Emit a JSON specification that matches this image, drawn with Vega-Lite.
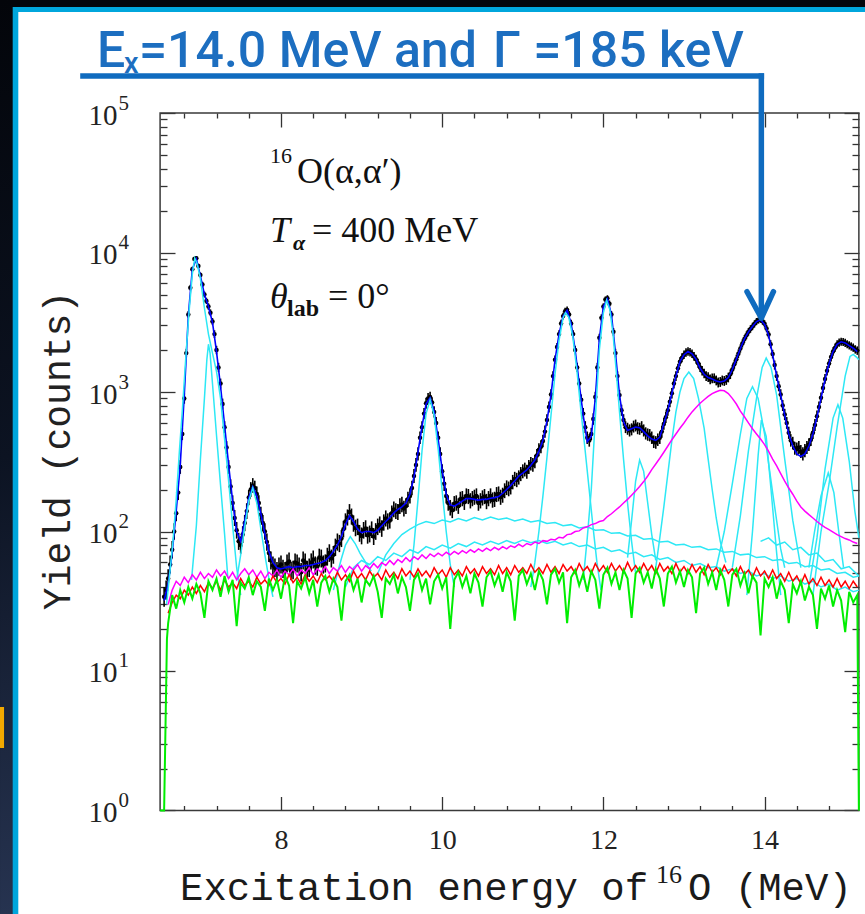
{
"$schema": "https://vega.github.io/schema/vega-lite/v6.json",
"width": 852, "height": 907,
"padding": {"left": 13, "top": 7, "right": 0, "bottom": 0},
"autosize": {"type": "none"},
"background": "#03050a",
"config": {"view": {"fill": "white", "stroke": null}, "axis": {"grid": false, "domain": false, "tickColor": "#333", "tickWidth": 1.3, "labelColor": "#222", "titleColor": "#222"}},
"resolve": {"axis": {"x": "independent", "y": "independent"}},
"datasets": {
"main": [
{"E":6.5,"g":1},
{"E":6.55,"d":34,"f":32,"g":1},
{"E":6.575,"d":38},
{"E":6.585,"g":17},
{"E":6.6,"d":46,"f":42,"g":22,"r":26,"m":30},
{"E":6.625,"d":58},
{"E":6.65,"d":74,"f":70,"g":35,"r":31,"m":38},
{"E":6.675,"d":100},
{"E":6.7,"d":135,"f":140,"g":28,"r":35,"m":44},
{"E":6.725,"d":190},
{"E":6.75,"d":290,"f":300,"g":38,"r":33,"m":41},
{"E":6.775,"d":500},
{"E":6.8,"d":900,"f":950,"g":31,"r":38,"m":47},
{"E":6.825,"d":1900},
{"E":6.85,"d":3600,"f":3500,"g":40,"r":35,"m":43},
{"E":6.875,"d":5600},
{"E":6.9,"d":7600,"f":7600,"g":33,"r":40,"m":49},
{"E":6.925,"d":9000},
{"E":6.95,"d":9100,"f":9000,"g":42,"r":36,"m":45},
{"E":6.975,"d":8000},
{"E":7.0,"d":6900,"f":6800,"g":36,"r":41,"m":51},
{"E":7.025,"d":5900},
{"E":7.05,"d":5000,"f":5000,"g":24,"r":37,"m":46},
{"E":7.075,"d":4500},
{"E":7.1,"d":4100,"f":4100,"g":44,"r":43,"m":50},
{"E":7.125,"d":3700},
{"E":7.15,"d":3200,"f":3150,"g":38,"r":39,"m":47},
{"E":7.175,"d":2600},
{"E":7.2,"d":2000,"f":1950,"g":46,"r":44,"m":53},
{"E":7.225,"d":1500},
{"E":7.25,"d":1150,"f":1100,"g":34,"r":38,"m":48},
{"E":7.275,"d":820},
{"E":7.3,"d":560,"f":580,"g":48,"r":45,"m":52},
{"E":7.325,"d":400},
{"E":7.35,"d":290,"f":300,"g":37,"r":40,"m":46},
{"E":7.375,"d":210},
{"E":7.4,"d":160,"f":165,"g":45,"r":43,"m":51},
{"E":7.425,"d":125},
{"E":7.45,"d":102,"f":100,"g":21,"r":39,"m":45},
{"E":7.475,"d":85},
{"E":7.5,"d":80,"f":85,"g":43,"r":46,"m":50},
{"E":7.525,"d":95},
{"E":7.55,"d":115,"f":120,"g":39,"r":41,"m":54},
{"E":7.575,"d":140},
{"E":7.6,"d":175,"f":175,"g":47,"r":44,"m":49},
{"E":7.625,"d":200},
{"E":7.65,"d":214,"f":210,"g":35,"r":40,"m":53},
{"E":7.675,"d":205},
{"E":7.7,"d":186,"f":180,"g":44,"r":47,"m":47},
{"E":7.725,"d":160},
{"E":7.75,"d":132,"f":135,"g":40,"r":42,"m":52},
{"E":7.775,"d":115},
{"E":7.8,"d":100,"f":96,"g":27,"r":45,"m":46},
{"E":7.825,"d":84},
{"E":7.85,"d":70,"f":72,"g":46,"r":41,"m":51},
{"E":7.875,"d":62},
{"E":7.9,"d":57,"f":60,"g":38,"r":48,"m":48},
{"E":7.925,"d":55},
{"E":7.95,"d":52,"f":55,"g":45,"r":43,"m":53},
{"E":7.975,"d":56},
{"E":8.0,"d":58,"f":54,"g":33,"r":46,"m":47},
{"E":8.025,"d":54},
{"E":8.05,"d":52,"f":55,"g":48,"r":42,"m":52},
{"E":8.075,"d":59},
{"E":8.1,"d":61,"f":56,"g":41,"r":49,"m":49},
{"E":8.125,"d":52},
{"E":8.15,"d":53,"f":55,"g":22,"r":43,"m":54},
{"E":8.175,"d":60},
{"E":8.2,"d":59,"f":56,"g":44,"r":47,"m":48},
{"E":8.225,"d":56},
{"E":8.25,"d":51,"f":56,"g":39,"r":42,"m":53},
{"E":8.275,"d":62},
{"E":8.3,"d":60,"f":57,"g":47,"r":49,"m":50},
{"E":8.325,"d":53},
{"E":8.35,"d":55,"f":57,"g":36,"r":44,"m":55},
{"E":8.375,"d":60},
{"E":8.4,"d":63,"f":58,"g":45,"r":48,"m":49},
{"E":8.425,"d":57},
{"E":8.45,"d":56,"f":59,"g":29,"r":43,"m":54},
{"E":8.475,"d":65},
{"E":8.5,"d":64,"f":60,"g":43,"r":50,"m":51},
{"E":8.525,"d":58},
{"E":8.55,"d":59,"f":62,"g":48,"r":45,"m":56},
{"E":8.575,"d":66},
{"E":8.6,"d":70,"f":66,"g":37,"r":48,"m":50},
{"E":8.625,"d":64},
{"E":8.65,"d":68,"f":72,"g":46,"r":44,"m":55},
{"E":8.675,"d":77},
{"E":8.7,"d":84,"f":80,"g":40,"r":51,"m":52},
{"E":8.725,"d":82},
{"E":8.75,"d":89,"f":92,"g":23,"r":45,"m":57},
{"E":8.775,"d":104},
{"E":8.8,"d":118,"f":112,"g":44,"r":49,"m":51},
{"E":8.825,"d":126},
{"E":8.85,"d":138,"f":130,"g":49,"r":44,"m":56},
{"E":8.875,"d":128},
{"E":8.9,"d":114,"f":118,"g":38,"r":52,"m":53},
{"E":8.925,"d":106},
{"E":8.95,"d":108,"f":104,"g":46,"r":46,"m":58},
{"E":8.975,"d":97},
{"E":9.0,"d":93,"f":98,"g":31,"r":50,"m":52},
{"E":9.025,"d":102},
{"E":9.05,"d":105,"f":100,"g":45,"r":45,"m":57},
{"E":9.075,"d":94},
{"E":9.1,"d":96,"f":100,"g":41,"r":52,"m":54},
{"E":9.125,"d":103},
{"E":9.15,"d":92,"f":98,"g":48,"r":47,"m":59},
{"E":9.175,"d":100},
{"E":9.2,"d":108,"f":102,"g":37,"r":50,"m":55},
{"E":9.225,"d":112},
{"E":9.25,"d":105,"f":110,"g":24,"r":45,"m":60},
{"E":9.275,"d":116},
{"E":9.3,"d":124,"f":118,"g":46,"r":53,"m":57},
{"E":9.325,"d":118},
{"E":9.35,"d":120,"f":126,"g":42,"r":47,"m":62},
{"E":9.375,"d":135},
{"E":9.4,"d":144,"f":136,"g":49,"r":51,"m":58},
{"E":9.425,"d":140},
{"E":9.45,"d":138,"f":144,"g":36,"r":46,"m":63},
{"E":9.475,"d":152},
{"E":9.5,"d":156,"f":150,"g":47,"r":54,"m":60},
{"E":9.525,"d":146},
{"E":9.55,"d":152,"f":160,"g":40,"r":48,"m":65},
{"E":9.575,"d":170},
{"E":9.6,"d":180,"f":185,"g":27,"r":52,"m":61},
{"E":9.625,"d":205},
{"E":9.65,"d":250,"f":245,"g":45,"r":47,"m":66},
{"E":9.675,"d":300},
{"E":9.7,"d":360,"f":370,"g":50,"r":54,"m":63},
{"E":9.725,"d":470},
{"E":9.75,"d":560,"f":570,"g":38,"r":48,"m":68},
{"E":9.775,"d":700},
{"E":9.8,"d":830,"f":820,"g":46,"r":52,"m":64},
{"E":9.825,"d":900},
{"E":9.85,"d":920,"f":910,"g":30,"r":47,"m":69},
{"E":9.875,"d":840},
{"E":9.9,"d":720,"f":730,"g":44,"r":55,"m":66},
{"E":9.925,"d":600},
{"E":9.95,"d":470,"f":460,"g":49,"r":49,"m":70},
{"E":9.975,"d":360},
{"E":10.0,"d":270,"f":275,"g":39,"r":53,"m":67},
{"E":10.025,"d":220},
{"E":10.05,"d":180,"f":185,"g":47,"r":47,"m":71},
{"E":10.075,"d":160},
{"E":10.1,"d":148,"f":155,"g":20,"r":55,"m":68},
{"E":10.125,"d":142},
{"E":10.15,"d":158,"f":152,"g":45,"r":49,"m":72},
{"E":10.175,"d":160},
{"E":10.2,"d":152,"f":158,"g":51,"r":53,"m":69},
{"E":10.225,"d":170},
{"E":10.25,"d":172,"f":165,"g":40,"r":48,"m":73},
{"E":10.275,"d":162},
{"E":10.3,"d":180,"f":172,"g":48,"r":56,"m":70},
{"E":10.325,"d":178},
{"E":10.35,"d":166,"f":172,"g":36,"r":50,"m":74},
{"E":10.375,"d":172},
{"E":10.4,"d":176,"f":170,"g":50,"r":54,"m":71},
{"E":10.425,"d":180},
{"E":10.45,"d":160,"f":168,"g":43,"r":48,"m":75},
{"E":10.475,"d":166},
{"E":10.5,"d":174,"f":170,"g":29,"r":56,"m":72},
{"E":10.525,"d":178},
{"E":10.55,"d":164,"f":170,"g":47,"r":50,"m":76},
{"E":10.575,"d":172},
{"E":10.6,"d":180,"f":173,"g":52,"r":54,"m":73},
{"E":10.625,"d":168},
{"E":10.65,"d":170,"f":175,"g":41,"r":49,"m":77},
{"E":10.675,"d":184},
{"E":10.7,"d":186,"f":178,"g":49,"r":57,"m":74},
{"E":10.725,"d":176},
{"E":10.75,"d":182,"f":188,"g":37,"r":50,"m":78},
{"E":10.775,"d":196},
{"E":10.8,"d":206,"f":200,"g":51,"r":55,"m":75},
{"E":10.825,"d":202},
{"E":10.85,"d":208,"f":214,"g":44,"r":49,"m":79},
{"E":10.875,"d":226},
{"E":10.9,"d":238,"f":230,"g":23,"r":57,"m":77},
{"E":10.925,"d":234},
{"E":10.95,"d":244,"f":250,"g":48,"r":51,"m":81},
{"E":10.975,"d":258},
{"E":11.0,"d":270,"f":262,"g":53,"r":55,"m":78},
{"E":11.025,"d":278},
{"E":11.05,"d":268,"f":276,"g":42,"r":50,"m":82},
{"E":11.075,"d":290},
{"E":11.1,"d":306,"f":298,"g":50,"r":58,"m":80},
{"E":11.125,"d":300},
{"E":11.15,"d":318,"f":325,"g":38,"r":51,"m":84},
{"E":11.175,"d":350},
{"E":11.2,"d":385,"f":375,"g":52,"r":55,"m":82},
{"E":11.225,"d":405},
{"E":11.25,"d":445,"f":450,"g":45,"r":50,"m":86},
{"E":11.275,"d":520},
{"E":11.3,"d":630,"f":620,"g":30,"r":58,"m":85},
{"E":11.325,"d":780},
{"E":11.35,"d":960,"f":950,"g":49,"r":51,"m":88},
{"E":11.375,"d":1300},
{"E":11.4,"d":1700,"f":1700,"g":54,"r":56,"m":87},
{"E":11.425,"d":2100},
{"E":11.45,"d":2600,"f":2600,"g":43,"r":50,"m":91},
{"E":11.475,"d":3100},
{"E":11.5,"d":3500,"f":3500,"g":51,"r":58,"m":90},
{"E":11.525,"d":3800},
{"E":11.55,"d":3880,"f":3850,"g":22,"r":52,"m":95},
{"E":11.575,"d":3600},
{"E":11.6,"d":3100,"f":3100,"g":47,"r":56,"m":96},
{"E":11.625,"d":2600},
{"E":11.65,"d":2000,"f":2000,"g":53,"r":50,"m":100},
{"E":11.675,"d":1500},
{"E":11.7,"d":1150,"f":1150,"g":41,"r":59,"m":101},
{"E":11.725,"d":880},
{"E":11.75,"d":700,"f":680,"g":50,"r":52,"m":106},
{"E":11.775,"d":560},
{"E":11.8,"d":470,"f":440,"g":37,"r":56,"m":108},
{"E":11.825,"d":450},
{"E":11.85,"d":500,"f":480,"g":52,"r":50,"m":112},
{"E":11.875,"d":640},
{"E":11.9,"d":920,"f":900,"g":45,"r":59,"m":114},
{"E":11.925,"d":1500},
{"E":11.95,"d":2450,"f":2400,"g":28,"r":52,"m":118},
{"E":11.975,"d":3400},
{"E":12.0,"d":4100,"f":4100,"g":49,"r":57,"m":120},
{"E":12.025,"d":4600},
{"E":12.05,"d":4700,"f":4650,"g":55,"r":51,"m":128},
{"E":12.075,"d":4300},
{"E":12.1,"d":3600,"f":3600,"g":42,"r":59,"m":134},
{"E":12.125,"d":2700},
{"E":12.15,"d":1900,"f":1900,"g":51,"r":52,"m":142},
{"E":12.175,"d":1300},
{"E":12.2,"d":950,"f":950,"g":38,"r":57,"m":150},
{"E":12.225,"d":740},
{"E":12.25,"d":630,"f":610,"g":53,"r":51,"m":160},
{"E":12.275,"d":560},
{"E":12.3,"d":545,"f":530,"g":46,"r":60,"m":170},
{"E":12.325,"d":530},
{"E":12.35,"d":540,"f":545,"g":24,"r":52,"m":182},
{"E":12.375,"d":565},
{"E":12.4,"d":575,"f":560,"g":50,"r":57,"m":195},
{"E":12.425,"d":550},
{"E":12.45,"d":545,"f":555,"g":55,"r":51,"m":210},
{"E":12.475,"d":560},
{"E":12.5,"d":530,"f":520,"g":43,"r":59,"m":228},
{"E":12.525,"d":505},
{"E":12.55,"d":495,"f":485,"g":51,"r":52,"m":250},
{"E":12.575,"d":490},
{"E":12.6,"d":470,"f":460,"g":39,"r":57,"m":278},
{"E":12.625,"d":440},
{"E":12.65,"d":435,"f":450,"g":54,"r":50,"m":305},
{"E":12.675,"d":455},
{"E":12.7,"d":470,"f":475,"g":46,"r":59,"m":335},
{"E":12.725,"d":520},
{"E":12.75,"d":590,"f":590,"g":29,"r":52,"m":370},
{"E":12.775,"d":660},
{"E":12.8,"d":740,"f":740,"g":50,"r":56,"m":410},
{"E":12.825,"d":850},
{"E":12.85,"d":980,"f":980,"g":56,"r":50,"m":455},
{"E":12.875,"d":1150},
{"E":12.9,"d":1300,"f":1300,"g":43,"r":59,"m":500},
{"E":12.925,"d":1480},
{"E":12.95,"d":1650,"f":1650,"g":52,"r":51,"m":550},
{"E":12.975,"d":1760},
{"E":13.0,"d":1850,"f":1850,"g":40,"r":56,"m":600},
{"E":13.025,"d":1920},
{"E":13.05,"d":1950,"f":1950,"g":53,"r":50,"m":660},
{"E":13.075,"d":1930},
{"E":13.1,"d":1880,"f":1880,"g":47,"r":58,"m":720},
{"E":13.125,"d":1800},
{"E":13.15,"d":1720,"f":1720,"g":26,"r":51,"m":775},
{"E":13.175,"d":1610},
{"E":13.2,"d":1500,"f":1480,"g":50,"r":56,"m":830},
{"E":13.225,"d":1420},
{"E":13.25,"d":1360,"f":1340,"g":55,"r":49,"m":880},
{"E":13.275,"d":1300},
{"E":13.3,"d":1280,"f":1270,"g":42,"r":58,"m":930},
{"E":13.325,"d":1230},
{"E":13.35,"d":1250,"f":1240,"g":51,"r":51,"m":975},
{"E":13.375,"d":1255},
{"E":13.4,"d":1210,"f":1200,"g":38,"r":55,"m":1005},
{"E":13.425,"d":1170},
{"E":13.45,"d":1180,"f":1180,"g":53,"r":49,"m":1030},
{"E":13.475,"d":1210},
{"E":13.5,"d":1200,"f":1200,"g":45,"r":57,"m":1020},
{"E":13.525,"d":1220},
{"E":13.55,"d":1270,"f":1270,"g":29,"r":50,"m":975},
{"E":13.575,"d":1340},
{"E":13.6,"d":1450,"f":1450,"g":49,"r":54,"m":900},
{"E":13.625,"d":1580},
{"E":13.65,"d":1720,"f":1720,"g":54,"r":48,"m":820},
{"E":13.675,"d":1880},
{"E":13.7,"d":2050,"f":2050,"g":41,"r":56,"m":730},
{"E":13.725,"d":2230},
{"E":13.75,"d":2400,"f":2400,"g":50,"r":49,"m":665},
{"E":13.775,"d":2550},
{"E":13.8,"d":2700,"f":2700,"g":36,"r":53,"m":600},
{"E":13.825,"d":2830},
{"E":13.85,"d":2950,"f":2950,"g":48,"r":47,"m":545},
{"E":13.875,"d":3080},
{"E":13.9,"d":3200,"f":3200,"g":43,"r":55,"m":500},
{"E":13.925,"d":3280},
{"E":13.95,"d":3320,"f":3300,"g":18,"r":48,"m":460},
{"E":13.975,"d":3220},
{"E":14.0,"d":3080,"f":3050,"g":46,"r":52,"m":420},
{"E":14.025,"d":2850},
{"E":14.05,"d":2580,"f":2550,"g":40,"r":46,"m":375},
{"E":14.075,"d":2200},
{"E":14.1,"d":1870,"f":1850,"g":47,"r":53,"m":330},
{"E":14.125,"d":1560},
{"E":14.15,"d":1300,"f":1300,"g":33,"r":46,"m":295},
{"E":14.175,"d":1100},
{"E":14.2,"d":960,"f":950,"g":44,"r":50,"m":260},
{"E":14.225,"d":800},
{"E":14.25,"d":690,"f":680,"g":38,"r":44,"m":230},
{"E":14.275,"d":600},
{"E":14.3,"d":510,"f":500,"g":22,"r":51,"m":205},
{"E":14.325,"d":450},
{"E":14.35,"d":430,"f":410,"g":42,"r":44,"m":185},
{"E":14.375,"d":395},
{"E":14.4,"d":390,"f":360,"g":36,"r":48,"m":165},
{"E":14.425,"d":400},
{"E":14.45,"d":375,"f":345,"g":44,"r":42,"m":150},
{"E":14.475,"d":360},
{"E":14.5,"d":380,"f":360,"g":32,"r":49,"m":140},
{"E":14.525,"d":400},
{"E":14.55,"d":420,"f":410,"g":40,"r":42,"m":132},
{"E":14.575,"d":455},
{"E":14.6,"d":510,"f":500,"g":35,"r":46,"m":125},
{"E":14.625,"d":580},
{"E":14.65,"d":670,"f":660,"g":20,"r":41,"m":118},
{"E":14.675,"d":780},
{"E":14.7,"d":910,"f":900,"g":39,"r":47,"m":112},
{"E":14.725,"d":1070},
{"E":14.75,"d":1240,"f":1230,"g":33,"r":41,"m":107},
{"E":14.775,"d":1420},
{"E":14.8,"d":1600,"f":1600,"g":41,"r":45,"m":103},
{"E":14.825,"d":1780},
{"E":14.85,"d":1950,"f":1950,"g":29,"r":40,"m":99},
{"E":14.875,"d":2080},
{"E":14.9,"d":2200,"f":2200,"g":38,"r":46,"m":95},
{"E":14.925,"d":2260},
{"E":14.95,"d":2290,"f":2290,"g":32,"r":40,"m":92},
{"E":14.975,"d":2280},
{"E":15.0,"d":2250,"f":2250,"g":19,"r":44,"m":89},
{"E":15.025,"d":2200},
{"E":15.05,"d":2160,"f":2150,"g":37,"r":39,"m":87},
{"E":15.075,"d":2120},
{"E":15.1,"d":2080,"f":2060,"g":31,"r":44,"m":84},
{"E":15.125,"d":2020},
{"E":15.15,"d":1980,"f":1950,"g":35,"r":40,"m":82},
{"E":15.17,"g":1}
],
"cyan": [
{"c":"C1","E":6.58,"y":30},{"c":"C1","E":6.62,"y":50},{"c":"C1","E":6.66,"y":85},{"c":"C1","E":6.7,"y":170},{"c":"C1","E":6.74,"y":380},{"c":"C1","E":6.78,"y":800},{"c":"C1","E":6.82,"y":1800},{"c":"C1","E":6.86,"y":3800},{"c":"C1","E":6.9,"y":7000},{"c":"C1","E":6.93,"y":9100},{"c":"C1","E":6.96,"y":8300},{"c":"C1","E":7.0,"y":6500},{"c":"C1","E":7.05,"y":4000},{"c":"C1","E":7.1,"y":2600},{"c":"C1","E":7.15,"y":1900},{"c":"C1","E":7.2,"y":1400},{"c":"C1","E":7.25,"y":900},{"c":"C1","E":7.3,"y":460},{"c":"C1","E":7.35,"y":230},{"c":"C1","E":7.4,"y":110},{"c":"C1","E":7.45,"y":55},{"c":"C1","E":7.5,"y":35},
{"c":"C2","E":6.89,"y":45},{"c":"C2","E":6.95,"y":110},{"c":"C2","E":7.0,"y":330},{"c":"C2","E":7.05,"y":900},{"c":"C2","E":7.08,"y":1700},{"c":"C2","E":7.1,"y":2200},{"c":"C2","E":7.12,"y":1900},{"c":"C2","E":7.15,"y":1150},{"c":"C2","E":7.2,"y":490},{"c":"C2","E":7.25,"y":215},{"c":"C2","E":7.3,"y":96},{"c":"C2","E":7.34,"y":47},
{"c":"C3","E":7.45,"y":45},{"c":"C3","E":7.5,"y":68},{"c":"C3","E":7.55,"y":108},{"c":"C3","E":7.6,"y":165},{"c":"C3","E":7.65,"y":205},{"c":"C3","E":7.7,"y":160},{"c":"C3","E":7.75,"y":105},{"c":"C3","E":7.8,"y":68},{"c":"C3","E":7.85,"y":46},{"c":"C3","E":7.9,"y":34},
{"c":"C4","E":8.65,"y":38},{"c":"C4","E":8.7,"y":50},{"c":"C4","E":8.75,"y":64},{"c":"C4","E":8.8,"y":80},{"c":"C4","E":8.86,"y":92},{"c":"C4","E":8.92,"y":82},{"c":"C4","E":8.98,"y":70},{"c":"C4","E":9.05,"y":60},{"c":"C4","E":9.12,"y":52},
{"c":"C5","E":9.6,"y":45},{"c":"C5","E":9.65,"y":80},{"c":"C5","E":9.7,"y":170},{"c":"C5","E":9.75,"y":380},{"c":"C5","E":9.8,"y":700},{"c":"C5","E":9.85,"y":880},{"c":"C5","E":9.9,"y":680},{"c":"C5","E":9.95,"y":390},{"c":"C5","E":10.0,"y":195},{"c":"C5","E":10.05,"y":100},{"c":"C5","E":10.1,"y":58},{"c":"C5","E":10.15,"y":40},
{"c":"C6","E":11.1,"y":40},{"c":"C6","E":11.15,"y":60},{"c":"C6","E":11.2,"y":100},{"c":"C6","E":11.25,"y":180},{"c":"C6","E":11.3,"y":340},{"c":"C6","E":11.35,"y":680},{"c":"C6","E":11.4,"y":1350},{"c":"C6","E":11.45,"y":2350},{"c":"C6","E":11.5,"y":3400},{"c":"C6","E":11.53,"y":3700},{"c":"C6","E":11.57,"y":3450},{"c":"C6","E":11.62,"y":2500},{"c":"C6","E":11.67,"y":1450},{"c":"C6","E":11.72,"y":750},{"c":"C6","E":11.77,"y":400},{"c":"C6","E":11.82,"y":210},{"c":"C6","E":11.87,"y":110},{"c":"C6","E":11.92,"y":60},{"c":"C6","E":11.97,"y":38},
{"c":"C7","E":11.75,"y":45},{"c":"C7","E":11.8,"y":90},{"c":"C7","E":11.85,"y":200},{"c":"C7","E":11.9,"y":650},{"c":"C7","E":11.95,"y":2000},{"c":"C7","E":12.0,"y":3700},{"c":"C7","E":12.04,"y":4550},{"c":"C7","E":12.08,"y":3900},{"c":"C7","E":12.12,"y":2600},{"c":"C7","E":12.16,"y":1400},{"c":"C7","E":12.2,"y":720},{"c":"C7","E":12.25,"y":330},{"c":"C7","E":12.3,"y":160},{"c":"C7","E":12.35,"y":85},{"c":"C7","E":12.4,"y":50},
{"c":"C8","E":12.3,"y":65},{"c":"C8","E":12.35,"y":120},{"c":"C8","E":12.4,"y":230},{"c":"C8","E":12.45,"y":325},{"c":"C8","E":12.5,"y":270},{"c":"C8","E":12.55,"y":160},{"c":"C8","E":12.6,"y":95},{"c":"C8","E":12.65,"y":62},
{"c":"C9","E":12.65,"y":55},{"c":"C9","E":12.7,"y":90},{"c":"C9","E":12.75,"y":150},{"c":"C9","E":12.8,"y":260},{"c":"C9","E":12.85,"y":450},{"c":"C9","E":12.9,"y":720},{"c":"C9","E":12.95,"y":1000},{"c":"C9","E":13.0,"y":1250},{"c":"C9","E":13.06,"y":1390},{"c":"C9","E":13.12,"y":1250},{"c":"C9","E":13.18,"y":900},{"c":"C9","E":13.25,"y":550},{"c":"C9","E":13.3,"y":330},{"c":"C9","E":13.35,"y":200},{"c":"C9","E":13.4,"y":125},{"c":"C9","E":13.45,"y":85},{"c":"C9","E":13.52,"y":60},
{"c":"C10","E":13.4,"y":55},{"c":"C10","E":13.5,"y":100},{"c":"C10","E":13.6,"y":220},{"c":"C10","E":13.7,"y":500},{"c":"C10","E":13.78,"y":900},{"c":"C10","E":13.85,"y":1090},{"c":"C10","E":13.92,"y":900},{"c":"C10","E":14.0,"y":500},{"c":"C10","E":14.1,"y":190},{"c":"C10","E":14.2,"y":75},{"c":"C10","E":14.25,"y":55},
{"c":"C11","E":13.6,"y":55},{"c":"C11","E":13.7,"y":130},{"c":"C11","E":13.8,"y":380},{"c":"C11","E":13.9,"y":900},{"c":"C11","E":13.97,"y":1500},{"c":"C11","E":14.02,"y":1750},{"c":"C11","E":14.08,"y":1500},{"c":"C11","E":14.15,"y":950},{"c":"C11","E":14.25,"y":330},{"c":"C11","E":14.35,"y":120},{"c":"C11","E":14.45,"y":55},
{"c":"C12","E":13.78,"y":35},{"c":"C12","E":13.85,"y":100},{"c":"C12","E":13.92,"y":350},{"c":"C12","E":13.96,"y":630},{"c":"C12","E":14.02,"y":480},{"c":"C12","E":14.08,"y":200},{"c":"C12","E":14.15,"y":70},{"c":"C12","E":14.2,"y":35},
{"c":"C13","E":14.55,"y":55},{"c":"C13","E":14.62,"y":100},{"c":"C13","E":14.7,"y":180},{"c":"C13","E":14.79,"y":263},{"c":"C13","E":14.86,"y":190},{"c":"C13","E":14.92,"y":100},{"c":"C13","E":14.98,"y":55},
{"c":"C14","E":14.55,"y":40},{"c":"C14","E":14.65,"y":90},{"c":"C14","E":14.75,"y":280},{"c":"C14","E":14.85,"y":650},{"c":"C14","E":14.91,"y":810},{"c":"C14","E":14.97,"y":650},{"c":"C14","E":15.05,"y":320},{"c":"C14","E":15.12,"y":140},{"c":"C14","E":15.17,"y":90},
{"c":"C15","E":14.6,"y":35},{"c":"C15","E":14.7,"y":100},{"c":"C15","E":14.8,"y":220},{"c":"C15","E":14.9,"y":560},{"c":"C15","E":15.0,"y":1300},{"c":"C15","E":15.06,"y":1800},{"c":"C15","E":15.1,"y":1860},{"c":"C15","E":15.14,"y":1780},{"c":"C15","E":15.17,"y":1700},
{"c":"Q1","E":9.2,"y":50},{"c":"Q1","E":9.3,"y":68},{"c":"Q1","E":9.4,"y":82},{"c":"Q1","E":9.5,"y":95},{"c":"Q1","E":9.6,"y":104},{"c":"Q1","E":9.7,"y":112},{"c":"Q1","E":9.8,"y":118},{"c":"Q1","E":9.9,"y":114},{"c":"Q1","E":10.0,"y":121},{"c":"Q1","E":10.1,"y":117},{"c":"Q1","E":10.2,"y":124},{"c":"Q1","E":10.3,"y":119},{"c":"Q1","E":10.4,"y":126},{"c":"Q1","E":10.5,"y":121},{"c":"Q1","E":10.6,"y":127},{"c":"Q1","E":10.7,"y":122},{"c":"Q1","E":10.8,"y":125},{"c":"Q1","E":10.9,"y":119},{"c":"Q1","E":11.0,"y":123},{"c":"Q1","E":11.1,"y":117},{"c":"Q1","E":11.2,"y":120},{"c":"Q1","E":11.3,"y":114},{"c":"Q1","E":11.4,"y":116},{"c":"Q1","E":11.5,"y":110},{"c":"Q1","E":11.6,"y":112},{"c":"Q1","E":11.7,"y":106},{"c":"Q1","E":11.8,"y":108},{"c":"Q1","E":11.9,"y":102},{"c":"Q1","E":12.0,"y":103},{"c":"Q1","E":12.1,"y":97},{"c":"Q1","E":12.2,"y":98},{"c":"Q1","E":12.3,"y":93},{"c":"Q1","E":12.4,"y":94},{"c":"Q1","E":12.5,"y":88},{"c":"Q1","E":12.6,"y":89},{"c":"Q1","E":12.7,"y":84},{"c":"Q1","E":12.8,"y":85},{"c":"Q1","E":12.9,"y":80},{"c":"Q1","E":13.0,"y":81},{"c":"Q1","E":13.1,"y":77},{"c":"Q1","E":13.2,"y":78},{"c":"Q1","E":13.3,"y":74},{"c":"Q1","E":13.4,"y":75},{"c":"Q1","E":13.5,"y":71},{"c":"Q1","E":13.6,"y":72},{"c":"Q1","E":13.7,"y":68},{"c":"Q1","E":13.8,"y":69},{"c":"Q1","E":13.9,"y":65},{"c":"Q1","E":14.0,"y":66},{"c":"Q1","E":14.1,"y":62},{"c":"Q1","E":14.2,"y":63},{"c":"Q1","E":14.3,"y":59},{"c":"Q1","E":14.4,"y":60},{"c":"Q1","E":14.5,"y":56},{"c":"Q1","E":14.6,"y":57},{"c":"Q1","E":14.7,"y":53},{"c":"Q1","E":14.8,"y":54},{"c":"Q1","E":14.9,"y":50},{"c":"Q1","E":15.0,"y":51},{"c":"Q1","E":15.1,"y":47},{"c":"Q1","E":15.17,"y":48},
{"c":"Q2","E":8.8,"y":40},{"c":"Q2","E":8.9,"y":55},{"c":"Q2","E":9.0,"y":62},{"c":"Q2","E":9.1,"y":58},{"c":"Q2","E":9.2,"y":66},{"c":"Q2","E":9.3,"y":62},{"c":"Q2","E":9.4,"y":70},{"c":"Q2","E":9.5,"y":66},{"c":"Q2","E":9.6,"y":74},{"c":"Q2","E":9.7,"y":70},{"c":"Q2","E":9.8,"y":78},{"c":"Q2","E":9.9,"y":74},{"c":"Q2","E":10.0,"y":80},{"c":"Q2","E":10.1,"y":76},{"c":"Q2","E":10.2,"y":82},{"c":"Q2","E":10.3,"y":78},{"c":"Q2","E":10.4,"y":84},{"c":"Q2","E":10.5,"y":80},{"c":"Q2","E":10.6,"y":85},{"c":"Q2","E":10.7,"y":81},{"c":"Q2","E":10.8,"y":86},{"c":"Q2","E":10.9,"y":82},{"c":"Q2","E":11.0,"y":87},{"c":"Q2","E":11.1,"y":83},{"c":"Q2","E":11.2,"y":86},{"c":"Q2","E":11.3,"y":82},{"c":"Q2","E":11.4,"y":85},{"c":"Q2","E":11.5,"y":80},{"c":"Q2","E":11.6,"y":83},{"c":"Q2","E":11.7,"y":78},{"c":"Q2","E":11.8,"y":80},{"c":"Q2","E":11.9,"y":75},{"c":"Q2","E":12.0,"y":77},{"c":"Q2","E":12.1,"y":72},{"c":"Q2","E":12.2,"y":74},{"c":"Q2","E":12.3,"y":69},{"c":"Q2","E":12.4,"y":71},{"c":"Q2","E":12.5,"y":66},{"c":"Q2","E":12.6,"y":68},{"c":"Q2","E":12.7,"y":63},{"c":"Q2","E":12.8,"y":65},{"c":"Q2","E":12.9,"y":60},{"c":"Q2","E":13.0,"y":62},{"c":"Q2","E":13.1,"y":57},{"c":"Q2","E":13.2,"y":59},{"c":"Q2","E":13.3,"y":55},{"c":"Q2","E":13.4,"y":56},{"c":"Q2","E":13.5,"y":52},{"c":"Q2","E":13.6,"y":54},{"c":"Q2","E":13.7,"y":50},{"c":"Q2","E":13.8,"y":52},{"c":"Q2","E":13.9,"y":48},{"c":"Q2","E":14.0,"y":50},{"c":"Q2","E":14.1,"y":46},{"c":"Q2","E":14.2,"y":48},{"c":"Q2","E":14.3,"y":44},{"c":"Q2","E":14.4,"y":46},{"c":"Q2","E":14.5,"y":42},{"c":"Q2","E":14.6,"y":44},{"c":"Q2","E":14.7,"y":40},{"c":"Q2","E":14.8,"y":42},{"c":"Q2","E":14.9,"y":38},{"c":"Q2","E":15.0,"y":40},{"c":"Q2","E":15.1,"y":37},{"c":"Q2","E":15.17,"y":38},
{"c":"Q3","E":13.95,"y":85},{"c":"Q3","E":14.05,"y":90},{"c":"Q3","E":14.15,"y":80},{"c":"Q3","E":14.25,"y":84},{"c":"Q3","E":14.35,"y":74},{"c":"Q3","E":14.45,"y":77},{"c":"Q3","E":14.55,"y":68},{"c":"Q3","E":14.65,"y":70},{"c":"Q3","E":14.75,"y":61},{"c":"Q3","E":14.85,"y":63},{"c":"Q3","E":14.95,"y":54},{"c":"Q3","E":15.05,"y":56},{"c":"Q3","E":15.17,"y":48}
]
},
"layer": [
{"data": {"values": [{}]}, "mark": {"type": "rect", "fill": {"gradient": "linear", "x1": 0, "y1": 0, "x2": 0, "y2": 1, "stops": [{"offset": 0, "color": "#03050a"}, {"offset": 0.5, "color": "#0c1322"}, {"offset": 1, "color": "#263350"}]}},
 "encoding": {"x": {"datum": 4.514, "type": "quantitative", "scale": {"domain": [4.675, 15.246], "nice": false, "zero": false}, "axis": null}, "x2": {"datum": 4.675},
  "y": {"datum": 645700, "type": "quantitative", "scale": {"type": "log", "domain": [0.18113, 575440], "nice": false}, "axis": null}, "y2": {"datum": 0.18113}}},
{"data": {"values": [{}]}, "mark": {"type": "rect", "fill": "#f2a900"},
 "encoding": {"x": {"datum": 4.514, "type": "quantitative", "scale": {"domain": [4.675, 15.246], "nice": false, "zero": false}, "axis": null}, "x2": {"datum": 4.564},
  "y": {"datum": 5.52, "type": "quantitative", "scale": {"type": "log", "domain": [0.18113, 575440], "nice": false}, "axis": null}, "y2": {"datum": 2.806}}},
{"data": {"values": [{}]}, "mark": {"type": "rect", "fillOpacity": 0, "stroke": "#3a3a3a", "strokeWidth": 1.5},
 "encoding": {"x": {"datum": 6.5, "type": "quantitative", "scale": {"domain": [4.675, 15.246], "nice": false, "zero": false}, "axis": null}, "x2": {"datum": 15.17},
  "y": {"datum": 1, "type": "quantitative", "scale": {"type": "log", "domain": [0.18113, 575440], "nice": false}, "axis": null}, "y2": {"datum": 100000}}},
{"data": {"values": [{}]}, "mark": {"type": "rule", "color": "#00a6dc", "strokeWidth": 5.6},
 "encoding": {"x": {"datum": 4.706, "type": "quantitative", "scale": {"domain": [4.675, 15.246], "nice": false, "zero": false}, "axis": null}}},
{"data": {"values": [{}]}, "mark": {"type": "rule", "color": "#00a6dc", "strokeWidth": 5},
 "encoding": {"y": {"datum": 552000, "type": "quantitative", "scale": {"type": "log", "domain": [0.18113, 575440], "nice": false}, "axis": null}}},
{"data": {"name": "main"}, "mark": {"type": "tick", "orient": "vertical", "color": "#000", "thickness": 1.6, "opacity": 1},
 "encoding": {
  "x": {"field": "E", "type": "quantitative", "scale": {"domain": [4.675, 15.246], "nice": false, "zero": false},
   "axis": {"orient": "bottom", "offset": -103.5, "values": [8, 10, 12, 14], "ticks": false, "labelFont": "Liberation Serif", "labelFontSize": 28, "labelPadding": 16, "labelFlush": false, "title": null}},
  "y": {"field": "d", "type": "quantitative", "scale": {"type": "log", "domain": [0.18113, 575440], "nice": false},
   "axis": {"orient": "left", "offset": -147, "values": [1, 10, 100, 1000, 10000, 100000], "labelExpr": "'10'", "ticks": false, "labelFont": "Liberation Serif", "labelFontSize": 29, "labelAlign": "right", "labelBaseline": "middle", "labelPadding": 43, "labelOffset": 2,
    "title": "Yield (counts)", "titleFont": "Liberation Mono", "titleFontSize": 38, "titleFontWeight": "normal", "titleX": -91, "titleY": 443, "titleAngle": 270, "titleAlign": "center", "titleBaseline": "alphabetic"}},
  "size": {"field": "d", "type": "quantitative", "scale": {"type": "log", "domain": [30, 10000], "range": [20, 4]}, "legend": null}}},
{"data": {"name": "main"}, "mark": {"type": "circle", "size": 20, "color": "#000", "opacity": 1},
 "encoding": {
  "x": {"field": "E", "type": "quantitative", "scale": {"domain": [4.675, 15.246], "nice": false, "zero": false},
   "axis": {"orient": "bottom", "offset": -801, "values": [8, 10, 12, 14], "labels": false, "tickSize": 14, "title": null}},
  "y": {"field": "d", "type": "quantitative", "scale": {"type": "log", "domain": [0.18113, 575440], "nice": false},
   "axis": {"orient": "left", "offset": -147, "values": [1, 10, 100, 1000, 10000, 100000], "labelExpr": "'' + round(log(datum.value) / LN10)", "ticks": false, "labelFont": "Liberation Serif", "labelFontSize": 21, "labelAlign": "left", "labelBaseline": "middle", "labelPadding": 42, "labelOffset": -10, "title": null}}}},
{"data": {"name": "main"}, "mark": {"type": "line", "color": "#0000ff", "strokeWidth": 1.6, "invalid": "filter"},
 "encoding": {
  "x": {"field": "E", "type": "quantitative", "scale": {"domain": [4.675, 15.246], "nice": false, "zero": false},
   "axis": {"orient": "bottom", "offset": -801, "values": [6.8, 7.2, 7.6, 8.4, 8.8, 9.2, 9.6, 10.4, 10.8, 11.2, 11.6, 12.4, 12.8, 13.2, 13.6, 14.4, 14.8], "labels": false, "tickSize": 5, "title": null}},
  "y": {"field": "f", "type": "quantitative", "scale": {"type": "log", "domain": [0.18113, 575440], "nice": false},
   "axis": {"orient": "right", "offset": -705, "values": [1, 10, 100, 1000, 10000, 100000], "labels": false, "tickSize": 15, "title": null}}}},
{"data": {"name": "cyan"}, "mark": {"type": "line", "color": "#2de8f5", "strokeWidth": 1.5, "invalid": "filter"},
 "encoding": {
  "x": {"field": "E", "type": "quantitative", "scale": {"domain": [4.675, 15.246], "nice": false, "zero": false},
   "axis": {"orient": "top", "offset": -803.5, "values": [8, 10, 12, 14], "labels": false, "tickSize": 14, "title": null}},
  "y": {"field": "y", "type": "quantitative", "scale": {"type": "log", "domain": [0.18113, 575440], "nice": false},
   "axis": {"orient": "right", "offset": -705, "values": [2,3,4,5,6,7,8,9,20,30,40,50,60,70,80,90,200,300,400,500,600,700,800,900,2000,3000,4000,5000,6000,7000,8000,9000,20000,30000,40000,50000,60000,70000,80000,90000], "labels": false, "tickSize": 7, "title": null}},
  "detail": {"field": "c"}}},
{"data": {"name": "main"}, "mark": {"type": "line", "color": "#ff00ff", "strokeWidth": 1.5, "invalid": "filter"},
 "encoding": {
  "x": {"field": "E", "type": "quantitative", "scale": {"domain": [4.675, 15.246], "nice": false, "zero": false},
   "axis": {"orient": "top", "offset": -803.5, "values": [6.8, 7.2, 7.6, 8.4, 8.8, 9.2, 9.6, 10.4, 10.8, 11.2, 11.6, 12.4, 12.8, 13.2, 13.6, 14.4, 14.8], "labels": false, "tickSize": 5, "title": null}},
  "y": {"field": "m", "type": "quantitative", "scale": {"type": "log", "domain": [0.18113, 575440], "nice": false},
   "axis": {"orient": "left", "offset": -846, "values": [1, 10, 100, 1000, 10000, 100000], "labels": false, "tickSize": 15, "title": null}}}},
{"data": {"name": "main"}, "mark": {"type": "line", "color": "#ff0000", "strokeWidth": 1.5, "invalid": "filter"},
 "encoding": {
  "x": {"field": "E", "type": "quantitative", "scale": {"domain": [4.675, 15.246], "nice": false, "zero": false}, "axis": null},
  "y": {"field": "r", "type": "quantitative", "scale": {"type": "log", "domain": [0.18113, 575440], "nice": false},
   "axis": {"orient": "left", "offset": -846, "values": [2,3,4,5,6,7,8,9,20,30,40,50,60,70,80,90,200,300,400,500,600,700,800,900,2000,3000,4000,5000,6000,7000,8000,9000,20000,30000,40000,50000,60000,70000,80000,90000], "labels": false, "tickSize": 7, "title": null}}}},
{"data": {"name": "main"}, "mark": {"type": "line", "color": "#00ee00", "strokeWidth": 2, "invalid": "filter"},
 "encoding": {
  "x": {"field": "E", "type": "quantitative", "scale": {"domain": [4.675, 15.246], "nice": false, "zero": false}, "axis": null},
  "y": {"field": "g", "type": "quantitative", "scale": {"type": "log", "domain": [0.18113, 575440], "nice": false}, "axis": null}}},
{"data": {"values": [{}]}, "mark": {"type": "text", "text": "Excitation energy of", "font": "Liberation Mono", "fontSize": 39, "align": "left", "baseline": "alphabetic", "color": "#1a1a1a"},
 "encoding": {"x": {"datum": 6.7469, "type": "quantitative", "scale": {"domain": [4.675, 15.246], "nice": false, "zero": false}, "axis": null}, "y": {"datum": 0.2283, "type": "quantitative", "scale": {"type": "log", "domain": [0.18113, 575440], "nice": false}, "axis": null}}},
{"data": {"values": [{}]}, "mark": {"type": "text", "text": "16", "font": "Liberation Serif", "fontSize": 26, "align": "left", "baseline": "alphabetic", "color": "#1a1a1a"},
 "encoding": {"x": {"datum": 12.653, "type": "quantitative", "scale": {"domain": [4.675, 15.246], "nice": false, "zero": false}, "axis": null}, "y": {"datum": 0.3021, "type": "quantitative", "scale": {"type": "log", "domain": [0.18113, 575440], "nice": false}, "axis": null}}},
{"data": {"values": [{}]}, "mark": {"type": "text", "text": "O (MeV)", "font": "Liberation Mono", "fontSize": 39, "align": "left", "baseline": "alphabetic", "color": "#1a1a1a"},
 "encoding": {"x": {"datum": 13.05, "type": "quantitative", "scale": {"domain": [4.675, 15.246], "nice": false, "zero": false}, "axis": null}, "y": {"datum": 0.2283, "type": "quantitative", "scale": {"type": "log", "domain": [0.18113, 575440], "nice": false}, "axis": null}}},
{"data": {"values": [{}]}, "mark": {"type": "text", "text": "16", "font": "Liberation Serif", "fontSize": 22, "align": "left", "baseline": "alphabetic", "color": "#111"},
 "encoding": {"x": {"datum": 7.8635, "type": "quantitative", "scale": {"domain": [4.675, 15.246], "nice": false, "zero": false}, "axis": null}, "y": {"datum": 43820, "type": "quantitative", "scale": {"type": "log", "domain": [0.18113, 575440], "nice": false}, "axis": null}}},
{"data": {"values": [{}]}, "mark": {"type": "text", "text": "O(α,α′)", "font": "Liberation Serif", "fontSize": 36, "align": "left", "baseline": "alphabetic", "color": "#111"},
 "encoding": {"x": {"datum": 8.1985, "type": "quantitative", "scale": {"domain": [4.675, 15.246], "nice": false, "zero": false}, "axis": null}, "y": {"datum": 31490, "type": "quantitative", "scale": {"type": "log", "domain": [0.18113, 575440], "nice": false}, "axis": null}}},
{"data": {"values": [{}]}, "mark": {"type": "text", "text": "T", "font": "Liberation Serif", "fontStyle": "italic", "fontSize": 36, "align": "left", "baseline": "alphabetic", "color": "#111"},
 "encoding": {"x": {"datum": 7.8635, "type": "quantitative", "scale": {"domain": [4.675, 15.246], "nice": false, "zero": false}, "axis": null}, "y": {"datum": 11893, "type": "quantitative", "scale": {"type": "log", "domain": [0.18113, 575440], "nice": false}, "axis": null}}},
{"data": {"values": [{}]}, "mark": {"type": "text", "text": "α", "font": "Liberation Serif", "fontStyle": "italic", "fontWeight": "bold", "fontSize": 22, "align": "left", "baseline": "alphabetic", "color": "#111"},
 "encoding": {"x": {"datum": 8.1489, "type": "quantitative", "scale": {"domain": [4.675, 15.246], "nice": false, "zero": false}, "axis": null}, "y": {"datum": 10420, "type": "quantitative", "scale": {"type": "log", "domain": [0.18113, 575440], "nice": false}, "axis": null}}},
{"data": {"values": [{}]}, "mark": {"type": "text", "text": "= 400 MeV", "font": "Liberation Serif", "fontSize": 36, "align": "left", "baseline": "alphabetic", "color": "#111"},
 "encoding": {"x": {"datum": 8.3846, "type": "quantitative", "scale": {"domain": [4.675, 15.246], "nice": false, "zero": false}, "axis": null}, "y": {"datum": 11893, "type": "quantitative", "scale": {"type": "log", "domain": [0.18113, 575440], "nice": false}, "axis": null}}},
{"data": {"values": [{}]}, "mark": {"type": "text", "text": "θ", "font": "Liberation Serif", "fontStyle": "italic", "fontSize": 36, "align": "left", "baseline": "alphabetic", "color": "#111"},
 "encoding": {"x": {"datum": 7.8635, "type": "quantitative", "scale": {"domain": [4.675, 15.246], "nice": false, "zero": false}, "axis": null}, "y": {"datum": 4001, "type": "quantitative", "scale": {"type": "log", "domain": [0.18113, 575440], "nice": false}, "axis": null}}},
{"data": {"values": [{}]}, "mark": {"type": "text", "text": "lab", "font": "Liberation Serif", "fontWeight": "bold", "fontSize": 24, "align": "left", "baseline": "alphabetic", "color": "#111"},
 "encoding": {"x": {"datum": 8.0744, "type": "quantitative", "scale": {"domain": [4.675, 15.246], "nice": false, "zero": false}, "axis": null}, "y": {"datum": 3506, "type": "quantitative", "scale": {"type": "log", "domain": [0.18113, 575440], "nice": false}, "axis": null}}},
{"data": {"values": [{}]}, "mark": {"type": "text", "text": "= 0°", "font": "Liberation Serif", "fontSize": 36, "align": "left", "baseline": "alphabetic", "color": "#111"},
 "encoding": {"x": {"datum": 8.5831, "type": "quantitative", "scale": {"domain": [4.675, 15.246], "nice": false, "zero": false}, "axis": null}, "y": {"datum": 4001, "type": "quantitative", "scale": {"type": "log", "domain": [0.18113, 575440], "nice": false}, "axis": null}}},
{"data": {"values": [{}]}, "mark": {"type": "rule", "color": "#0f6bbf", "strokeWidth": 5.5, "strokeCap": "square"},
 "encoding": {"x": {"datum": 5.543, "type": "quantitative", "scale": {"domain": [4.675, 15.246], "nice": false, "zero": false}, "axis": null}, "x2": {"datum": 13.96}, "y": {"datum": 184200, "type": "quantitative", "scale": {"type": "log", "domain": [0.18113, 575440], "nice": false}, "axis": null}}},
{"data": {"values": [{}]}, "mark": {"type": "rule", "color": "#0f6bbf", "strokeWidth": 5.5, "strokeCap": "square"},
 "encoding": {"x": {"datum": 13.96, "type": "quantitative", "scale": {"domain": [4.675, 15.246], "nice": false, "zero": false}, "axis": null}, "y": {"datum": 184200, "type": "quantitative", "scale": {"type": "log", "domain": [0.18113, 575440], "nice": false}, "axis": null}, "y2": {"datum": 3600}}},
{"data": {"values": [{}]}, "mark": {"type": "rule", "color": "#0f6bbf", "strokeWidth": 5.5, "strokeCap": "round"},
 "encoding": {"x": {"datum": 13.782, "type": "quantitative", "scale": {"domain": [4.675, 15.246], "nice": false, "zero": false}, "axis": null}, "x2": {"datum": 13.96}, "y": {"datum": 5236, "type": "quantitative", "scale": {"type": "log", "domain": [0.18113, 575440], "nice": false}, "axis": null}, "y2": {"datum": 3393}}},
{"data": {"values": [{}]}, "mark": {"type": "rule", "color": "#0f6bbf", "strokeWidth": 5.5, "strokeCap": "round"},
 "encoding": {"x": {"datum": 14.11, "type": "quantitative", "scale": {"domain": [4.675, 15.246], "nice": false, "zero": false}, "axis": null}, "x2": {"datum": 13.96}, "y": {"datum": 5236, "type": "quantitative", "scale": {"type": "log", "domain": [0.18113, 575440], "nice": false}, "axis": null}, "y2": {"datum": 3393}}},
{"data": {"values": [{}]}, "mark": {"type": "text", "text": "E", "font": "Roboto", "fontWeight": 500, "fontSize": 50, "align": "left", "baseline": "alphabetic", "color": "#1c6ec0"},
 "encoding": {"x": {"datum": 5.7171, "type": "quantitative", "scale": {"domain": [4.675, 15.246], "nice": false, "zero": false}, "axis": null}, "y": {"datum": 213600, "type": "quantitative", "scale": {"type": "log", "domain": [0.18113, 575440], "nice": false}, "axis": null}}},
{"data": {"values": [{}]}, "mark": {"type": "text", "text": "x", "font": "Roboto", "fontWeight": 500, "fontSize": 29, "align": "left", "baseline": "alphabetic", "color": "#1c6ec0"},
 "encoding": {"x": {"datum": 6.052, "type": "quantitative", "scale": {"domain": [4.675, 15.246], "nice": false, "zero": false}, "axis": null}, "y": {"datum": 193500, "type": "quantitative", "scale": {"type": "log", "domain": [0.18113, 575440], "nice": false}, "axis": null}}},
{"data": {"values": [{}]}, "mark": {"type": "text", "text": "=14.0 MeV and", "font": "Roboto", "fontWeight": 500, "fontSize": 50, "align": "left", "baseline": "alphabetic", "color": "#1c6ec0"},
 "encoding": {"x": {"datum": 6.2382, "type": "quantitative", "scale": {"domain": [4.675, 15.246], "nice": false, "zero": false}, "axis": null}, "y": {"datum": 213600, "type": "quantitative", "scale": {"type": "log", "domain": [0.18113, 575440], "nice": false}, "axis": null}}},
{"data": {"values": [{}]}, "mark": {"type": "text", "text": "Γ =185 keV", "font": "Roboto", "fontWeight": 500, "fontSize": 50, "align": "left", "baseline": "alphabetic", "color": "#1c6ec0"},
 "encoding": {"x": {"datum": 10.63, "type": "quantitative", "scale": {"domain": [4.675, 15.246], "nice": false, "zero": false}, "axis": null}, "y": {"datum": 213600, "type": "quantitative", "scale": {"type": "log", "domain": [0.18113, 575440], "nice": false}, "axis": null}}}
]
}
